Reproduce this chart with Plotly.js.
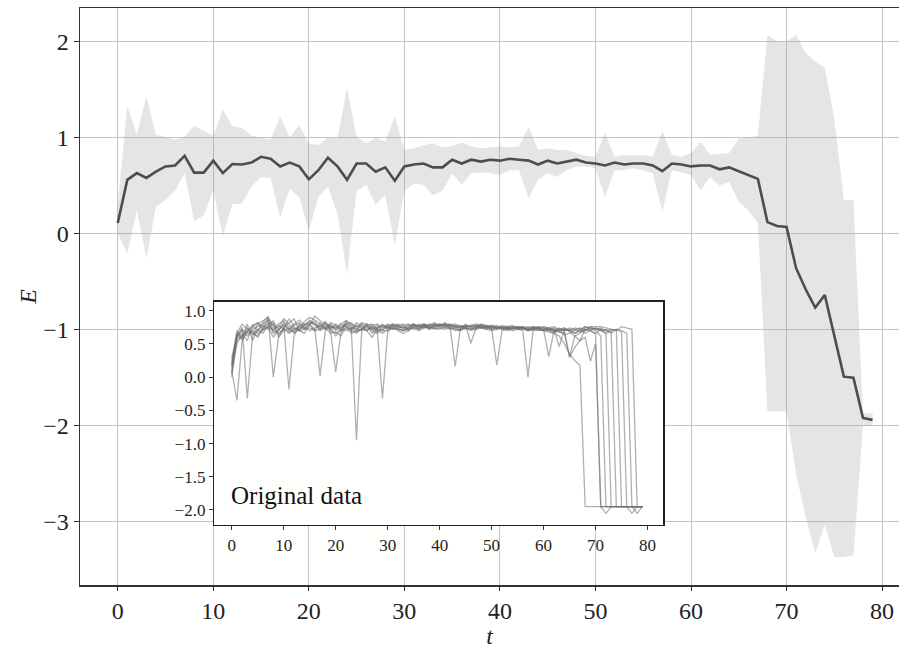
<!DOCTYPE html>
<html>
<head>
<meta charset="utf-8">
<script src="https://cdn.plot.ly/plotly-3.0.1.min.js"></script>
<style>html,body{margin:0;padding:0;background:#fff;}#chart{width:899px;height:649px;}</style>
</head>
<body>
<div id="chart"></div>
<script>
// time steps
const t = Array.from({length: 80}, (_, i) => i);

// main chart: mean energy and band bounds
const meanE = [
  0.11, 0.56, 0.63, 0.58, 0.645, 0.70, 0.71, 0.81, 0.635, 0.635,
  0.76, 0.63, 0.725, 0.72, 0.74, 0.80, 0.78, 0.70, 0.74, 0.70,
  0.565, 0.66, 0.79, 0.70, 0.56, 0.73, 0.73, 0.645, 0.69, 0.55,
  0.70, 0.72, 0.73, 0.69, 0.69, 0.77, 0.73, 0.77, 0.75, 0.77,
  0.76, 0.78, 0.77, 0.76, 0.72, 0.76, 0.73, 0.75, 0.77, 0.74,
  0.73, 0.71, 0.74, 0.72, 0.73, 0.73, 0.71, 0.65, 0.73, 0.72,
  0.70, 0.71, 0.71, 0.67, 0.69, 0.65, 0.61, 0.57, 0.12, 0.08,
  0.07, -0.36, -0.58, -0.77, -0.64, -1.07, -1.49, -1.50, -1.92, -1.94
];
const upperE = [
  0.30, 1.33, 1.03, 1.43, 1.03, 1.01, 0.98, 1.01, 1.12, 1.07,
  1.02, 1.29, 1.12, 1.10, 1.02, 1.00, 0.98, 1.22, 1.00, 1.13,
  0.94, 0.92, 1.00, 0.99, 1.52, 1.01, 0.94, 1.00, 0.96, 1.22,
  0.87, 0.89, 0.92, 0.94, 0.90, 0.91, 0.95, 0.91, 0.89, 0.90,
  0.91, 0.90, 0.91, 1.11, 0.87, 0.89, 0.87, 0.87, 0.84, 0.81,
  0.80, 1.05, 0.80, 0.82, 0.81, 0.82, 0.80, 1.07, 0.82, 0.80,
  0.84, 0.96, 0.82, 0.83, 0.84, 0.99, 1.00, 1.02, 2.07, 2.00,
  2.00, 2.07, 1.88, 1.79, 1.73, 1.19, 0.35, 0.35, -1.87, -1.87
];
const lowerE = [
  0.00, -0.21, 0.24, -0.26, 0.28, 0.35, 0.45, 0.63, 0.13, 0.19,
  0.45, -0.03, 0.31, 0.31, 0.49, 0.59, 0.58, 0.17, 0.47, 0.38,
  0.03, 0.38, 0.49, 0.21, -0.42, 0.44, 0.51, 0.30, 0.40, -0.12,
  0.45, 0.52, 0.51, 0.40, 0.45, 0.63, 0.51, 0.63, 0.64, 0.63,
  0.61, 0.66, 0.66, 0.37, 0.56, 0.63, 0.59, 0.66, 0.70, 0.70,
  0.68, 0.38, 0.66, 0.66, 0.68, 0.66, 0.63, 0.23, 0.66, 0.64,
  0.61, 0.45, 0.59, 0.50, 0.54, 0.33, 0.24, 0.11, -1.85, -1.85,
  -1.85, -2.51, -2.94, -3.33, -3.03, -3.37, -3.37, -3.35, -2.00, -2.00
];

// inset: original runs
const run1 = [
  0.10, -0.35, 0.55, 0.70, 0.78, 0.82, 0.75, 0.88, 0.72, 0.80,
  0.85, 0.70, 0.78, 0.82, 0.75, 0.86, 0.80, 0.74, 0.82, 0.77,
  0.72, 0.80, 0.85, 0.78, 0.70, 0.80, 0.76, 0.72, 0.78, 0.70,
  0.78, 0.80, 0.76, 0.74, 0.78, 0.80, 0.77, 0.79, 0.76, 0.80,
  0.78, 0.80, 0.79, 0.77, 0.74, 0.78, 0.76, 0.78, 0.79, 0.76,
  0.75, 0.74, 0.76, 0.74, 0.75, 0.74, 0.72, 0.70, 0.74, 0.72,
  0.70, 0.68, 0.66, 0.62, 0.50, 0.35, 0.25, 0.18, -1.95, -1.95,
  -1.95, -1.95, -1.95, -1.95, -1.95, -1.95, -1.95, -1.95, -1.95, -1.95
];
const run2 = [
  0.20, 0.60, 0.75, -0.32, 0.62, 0.80, 0.85, 0.90, 0.78, 0.74,
  0.88, 0.80, 0.72, 0.75, 0.84, 0.90, 0.86, 0.80, 0.72, 0.82,
  0.78, 0.70, 0.85, 0.80, 0.76, 0.82, 0.80, 0.66, 0.75, 0.78,
  0.76, 0.78, 0.80, 0.72, 0.75, 0.80, 0.74, 0.80, 0.78, 0.76,
  0.80, 0.78, 0.80, 0.76, 0.72, 0.80, 0.74, 0.76, 0.80, 0.78,
  0.76, 0.74, 0.78, 0.76, 0.74, 0.76, 0.75, 0.72, 0.76, 0.74,
  0.72, 0.74, 0.70, 0.68, 0.66, 0.30, 0.45, 0.55, 0.60, 0.24,
  0.50, -1.95, -1.95, -1.95, -1.95, -1.95, -1.95, -1.95, -1.95, -1.95
];
const run3 = [
  0.05, 0.50, 0.65, 0.55, 0.78, 0.70, 0.82, 0.92, 0.00, 0.60,
  0.75, 0.82, 0.88, 0.70, 0.80, 0.78, 0.92, 0.85, 0.80, 0.72,
  0.80, 0.74, 0.78, 0.70, 0.82, 0.76, 0.70, 0.78, 0.80, 0.74,
  0.80, 0.72, 0.78, 0.80, 0.70, 0.78, 0.76, 0.74, 0.80, 0.78,
  0.76, 0.82, 0.76, 0.78, 0.76, 0.74, 0.78, 0.80, 0.76, 0.74,
  0.78, 0.72, 0.74, 0.76, 0.72, 0.74, 0.76, 0.70, 0.72, 0.76,
  0.74, 0.70, 0.72, 0.70, 0.74, 0.68, 0.62, 0.55, 0.72, 0.70,
  0.65, -1.95, -2.05, -1.95, -1.95, -1.95, -1.95, -1.95, -1.95, -1.95
];
const run4 = [
  0.25, 0.70, 0.60, 0.80, 0.55, 0.72, 0.66, 0.78, 0.85, 0.70,
  0.80, -0.18, 0.62, 0.80, 0.72, 0.78, 0.70, 0.82, 0.75, 0.80,
  0.70, 0.76, 0.80, 0.82, 0.74, 0.70, 0.78, 0.80, 0.72, 0.80,
  0.74, 0.80, 0.76, 0.78, 0.80, 0.74, 0.80, 0.76, 0.78, 0.82,
  0.78, 0.76, 0.78, 0.80, 0.76, 0.78, 0.51, 0.74, 0.78, 0.76,
  0.74, 0.76, 0.72, 0.74, 0.76, 0.72, 0.74, 0.76, 0.74, 0.72,
  0.76, 0.72, 0.68, 0.74, 0.70, 0.72, 0.66, 0.70, 0.76, 0.74,
  0.70, 0.62, -1.95, -1.95, -1.95, -1.95, -1.95, -1.95, -1.95, -1.95
];
const run5 = [
  0.15, 0.66, 0.80, 0.72, 0.68, 0.60, 0.74, 0.80, 0.70, 0.78,
  0.72, 0.88, 0.76, 0.70, 0.66, 0.80, 0.72, 0.02, 0.70, 0.78,
  0.74, 0.80, 0.76, 0.72, 0.78, 0.74, 0.80, 0.72, 0.70, -0.32,
  0.68, 0.76, 0.72, 0.70, 0.74, 0.78, 0.72, 0.76, 0.74, 0.78,
  0.76, 0.74, 0.78, 0.74, 0.70, 0.76, 0.72, 0.74, 0.78, 0.76,
  0.72, 0.74, 0.76, 0.72, 0.74, 0.76, 0.74, 0.72, 0.74, 0.76,
  0.72, 0.31, 0.70, 0.72, 0.74, 0.70, 0.72, 0.68, 0.70, 0.74,
  0.72, 0.70, 0.66, -1.95, -1.95, -1.95, -1.95, -1.95, -1.95, -1.95
];
const run6 = [
  0.30, 0.55, 0.62, 0.70, 0.75, 0.82, 0.70, 0.76, 0.60, 0.72,
  0.78, 0.72, 0.80, 0.86, 0.78, 0.82, 0.80, 0.76, 0.84, 0.70,
  0.08, 0.66, 0.82, 0.76, 0.72, 0.80, 0.72, 0.76, 0.68, 0.76,
  0.74, 0.78, 0.74, 0.76, 0.72, 0.80, 0.76, 0.78, 0.72, 0.80,
  0.78, 0.80, 0.74, 0.76, 0.78, 0.76, 0.78, 0.76, 0.74, 0.78,
  0.76, 0.78, 0.74, 0.76, 0.78, 0.74, 0.72, 0.74, 0.76, 0.74,
  0.76, 0.74, 0.72, 0.46, 0.72, 0.70, 0.74, 0.72, 0.76, 0.72,
  0.74, 0.70, 0.72, 0.68, -1.95, -1.95, -1.95, -1.95, -1.95, -1.95
];
const run7 = [
  0.00, 0.62, 0.72, 0.66, 0.72, 0.76, 0.80, 0.86, 0.66, 0.70,
  0.82, 0.76, 0.68, 0.74, 0.80, 0.84, 0.78, 0.72, 0.80, 0.74,
  0.76, 0.72, 0.80, 0.74, -0.95, 0.70, 0.80, 0.76, 0.74, 0.78,
  0.72, 0.76, 0.78, 0.74, 0.78, 0.76, 0.78, 0.80, 0.74, 0.76,
  0.80, 0.78, 0.76, 0.16, 0.74, 0.78, 0.76, 0.78, 0.76, 0.74,
  0.78, 0.76, 0.74, 0.72, 0.76, 0.74, 0.76, 0.74, 0.72, 0.74,
  0.72, 0.74, 0.76, 0.72, 0.70, 0.74, 0.72, 0.74, 0.70, 0.76,
  0.72, 0.74, 0.70, 0.72, 0.70, -1.95, -1.95, -2.05, -1.95, -1.95
];
const run8 = [
  0.12, 0.58, 0.70, 0.62, 0.70, 0.66, 0.72, 0.84, 0.78, 0.64,
  0.74, 0.68, 0.70, 0.78, 0.72, 0.80, 0.84, 0.70, 0.74, 0.66,
  0.68, 0.62, 0.76, 0.70, 0.66, 0.74, 0.70, 0.60, 0.72, 0.70,
  0.70, 0.74, 0.70, 0.66, 0.70, 0.76, 0.72, 0.78, 0.76, 0.74,
  0.76, 0.78, 0.74, 0.72, 0.70, 0.74, 0.72, 0.76, 0.74, 0.72,
  0.74, 0.18, 0.70, 0.74, 0.72, 0.76, 0.74, 0.70, 0.74, 0.72,
  0.70, 0.72, 0.74, 0.70, 0.64, 0.66, 0.70, 0.72, 0.66, 0.70,
  0.74, 0.72, 0.66, 0.70, 0.72, 0.68, -1.95, -1.95, -1.95, -1.95
];
const run9 = [
  0.18, 0.66, 0.58, 0.74, 0.64, 0.70, 0.78, 0.72, 0.82, 0.60,
  0.70, 0.74, 0.66, 0.72, 0.76, 0.70, 0.74, 0.78, 0.72, 0.76,
  0.62, 0.70, 0.74, 0.66, 0.70, 0.72, 0.76, 0.70, 0.66, 0.72,
  0.76, 0.72, 0.74, 0.70, 0.74, 0.72, 0.74, 0.76, 0.72, 0.74,
  0.72, 0.76, 0.72, 0.74, 0.76, 0.72, 0.74, 0.72, 0.76, 0.74,
  0.72, 0.74, 0.72, 0.70, 0.74, 0.72, 0.70, 0.00, 0.72, 0.70,
  0.72, 0.70, 0.66, 0.72, 0.70, 0.30, 0.62, 0.66, 0.72, 0.70,
  0.66, 0.72, 0.70, 0.66, 0.72, 0.70, 0.66, -1.95, -2.05, -1.95
];
const run10 = [
  0.08, 0.64, 0.56, 0.68, 0.66, 0.62, 0.72, 0.76, 0.70, 0.66,
  0.72, 0.66, 0.74, 0.70, 0.72, 0.74, 0.70, 0.72, 0.76, 0.70,
  0.66, 0.72, 0.70, 0.74, 0.68, 0.72, 0.70, 0.74, 0.72, 0.66,
  0.72, 0.74, 0.72, 0.70, 0.72, 0.74, 0.70, 0.74, 0.76, 0.72,
  0.74, 0.72, 0.74, 0.70, 0.72, 0.74, 0.70, 0.72, 0.74, 0.72,
  0.70, 0.72, 0.74, 0.72, 0.70, 0.72, 0.74, 0.72, 0.70, 0.72,
  0.70, 0.72, 0.70, 0.68, 0.72, 0.70, 0.66, 0.70, 0.74, 0.76,
  0.76, 0.76, 0.74, 0.72, 0.70, 0.76, 0.74, 0.72, -1.95, -1.95
];
const runs = [run1, run2, run3, run4, run5, run6, run7, run8, run9, run10];

const mainTicks = [0, 10, 20, 30, 40, 50, 60, 70, 80];
const mainYTicks = [-3, -2, -1, 0, 1, 2];
const insetYTicks = [-2.0, -1.5, -1.0, -0.5, 0.0, 0.5, 1.0];
const insetLabel = 'Original data';

const FONT = '"Liberation Serif", "Times New Roman", serif';

const traces = [
  {x: t, y: lowerE, type: 'scatter', mode: 'lines', line: {width: 0, color: 'rgba(0,0,0,0)'},
   hoverinfo: 'skip', showlegend: false, xaxis: 'x', yaxis: 'y'},
  {x: t, y: upperE, type: 'scatter', mode: 'lines', line: {width: 0, color: 'rgba(0,0,0,0)'},
   fill: 'tonexty', fillcolor: 'rgba(150,150,150,0.25)', showlegend: false, xaxis: 'x', yaxis: 'y'},
  {x: t, y: meanE, type: 'scatter', mode: 'lines', line: {width: 2.6, color: '#4d4d4d'},
   showlegend: false, xaxis: 'x', yaxis: 'y'}
];
runs.forEach(r => traces.push({
  x: t, y: r, type: 'scatter', mode: 'lines',
  line: {width: 1.3, color: 'rgba(110,110,110,0.55)'},
  showlegend: false, xaxis: 'x2', yaxis: 'y2'
}));

const layout = {
  width: 899, height: 649,
  margin: {l: 80, r: 0, t: 8, b: 64},
  paper_bgcolor: '#ffffff',
  plot_bgcolor: '#fffffe',
  font: {family: FONT, color: '#222'},
  showlegend: false,
  xaxis: {
    domain: [0, 1], range: [-3.95, 81.77],
    tickvals: mainTicks, ticks: 'outside', ticklen: 4, tickwidth: 1, tickcolor: '#333',
    showgrid: true, gridcolor: '#c4c4c4', gridwidth: 1, zeroline: false,
    showline: true, linecolor: '#333', linewidth: 1.5, mirror: true,
    tickfont: {size: 24, family: FONT, color: '#222'},
    title: {text: '<i>t</i>', font: {size: 24, family: FONT, color: '#222'}, standoff: 0}
  },
  yaxis: {
    domain: [0, 1], range: [-3.66, 2.35],
    tickvals: mainYTicks, ticks: 'outside', ticklen: 5, tickwidth: 1, tickcolor: '#333',
    showgrid: true, gridcolor: '#c4c4c4', gridwidth: 1, zeroline: false,
    showline: true, linecolor: '#333', linewidth: 1.5,
    tickfont: {size: 24, family: FONT, color: '#222'},
    title: {text: '<i>E</i>', font: {size: 24, family: FONT, color: '#222'}, standoff: 0}
  },
  xaxis2: {
    domain: [0.164, 0.712], anchor: 'y2', range: [-3.35, 83.0],
    tickvals: mainTicks, ticks: 'outside', ticklen: 4, tickwidth: 1, tickcolor: '#333',
    showgrid: false, zeroline: false,
    showline: true, linecolor: '#222', linewidth: 1.5, mirror: true,
    tickfont: {size: 17, family: FONT, color: '#222'}
  },
  yaxis2: {
    domain: [0.104, 0.491], anchor: 'x2', range: [-2.226, 1.136],
    tickvals: insetYTicks, tickformat: '.1f', ticks: 'outside', ticklen: 4, tickwidth: 1, tickcolor: '#333',
    showgrid: false, zeroline: false,
    showline: true, linecolor: '#222', linewidth: 1.5, mirror: true,
    tickfont: {size: 17, family: FONT, color: '#222'}
  },
  annotations: [{
    text: insetLabel, xref: 'x2', yref: 'y2', x: -0.6, y: -1.78,
    xanchor: 'left', yanchor: 'middle', showarrow: false,
    font: {size: 25, family: FONT, color: '#111'}
  }]
};

Plotly.newPlot('chart', traces, layout, {displayModeBar: false, staticPlot: true});
</script>
</body>
</html>
